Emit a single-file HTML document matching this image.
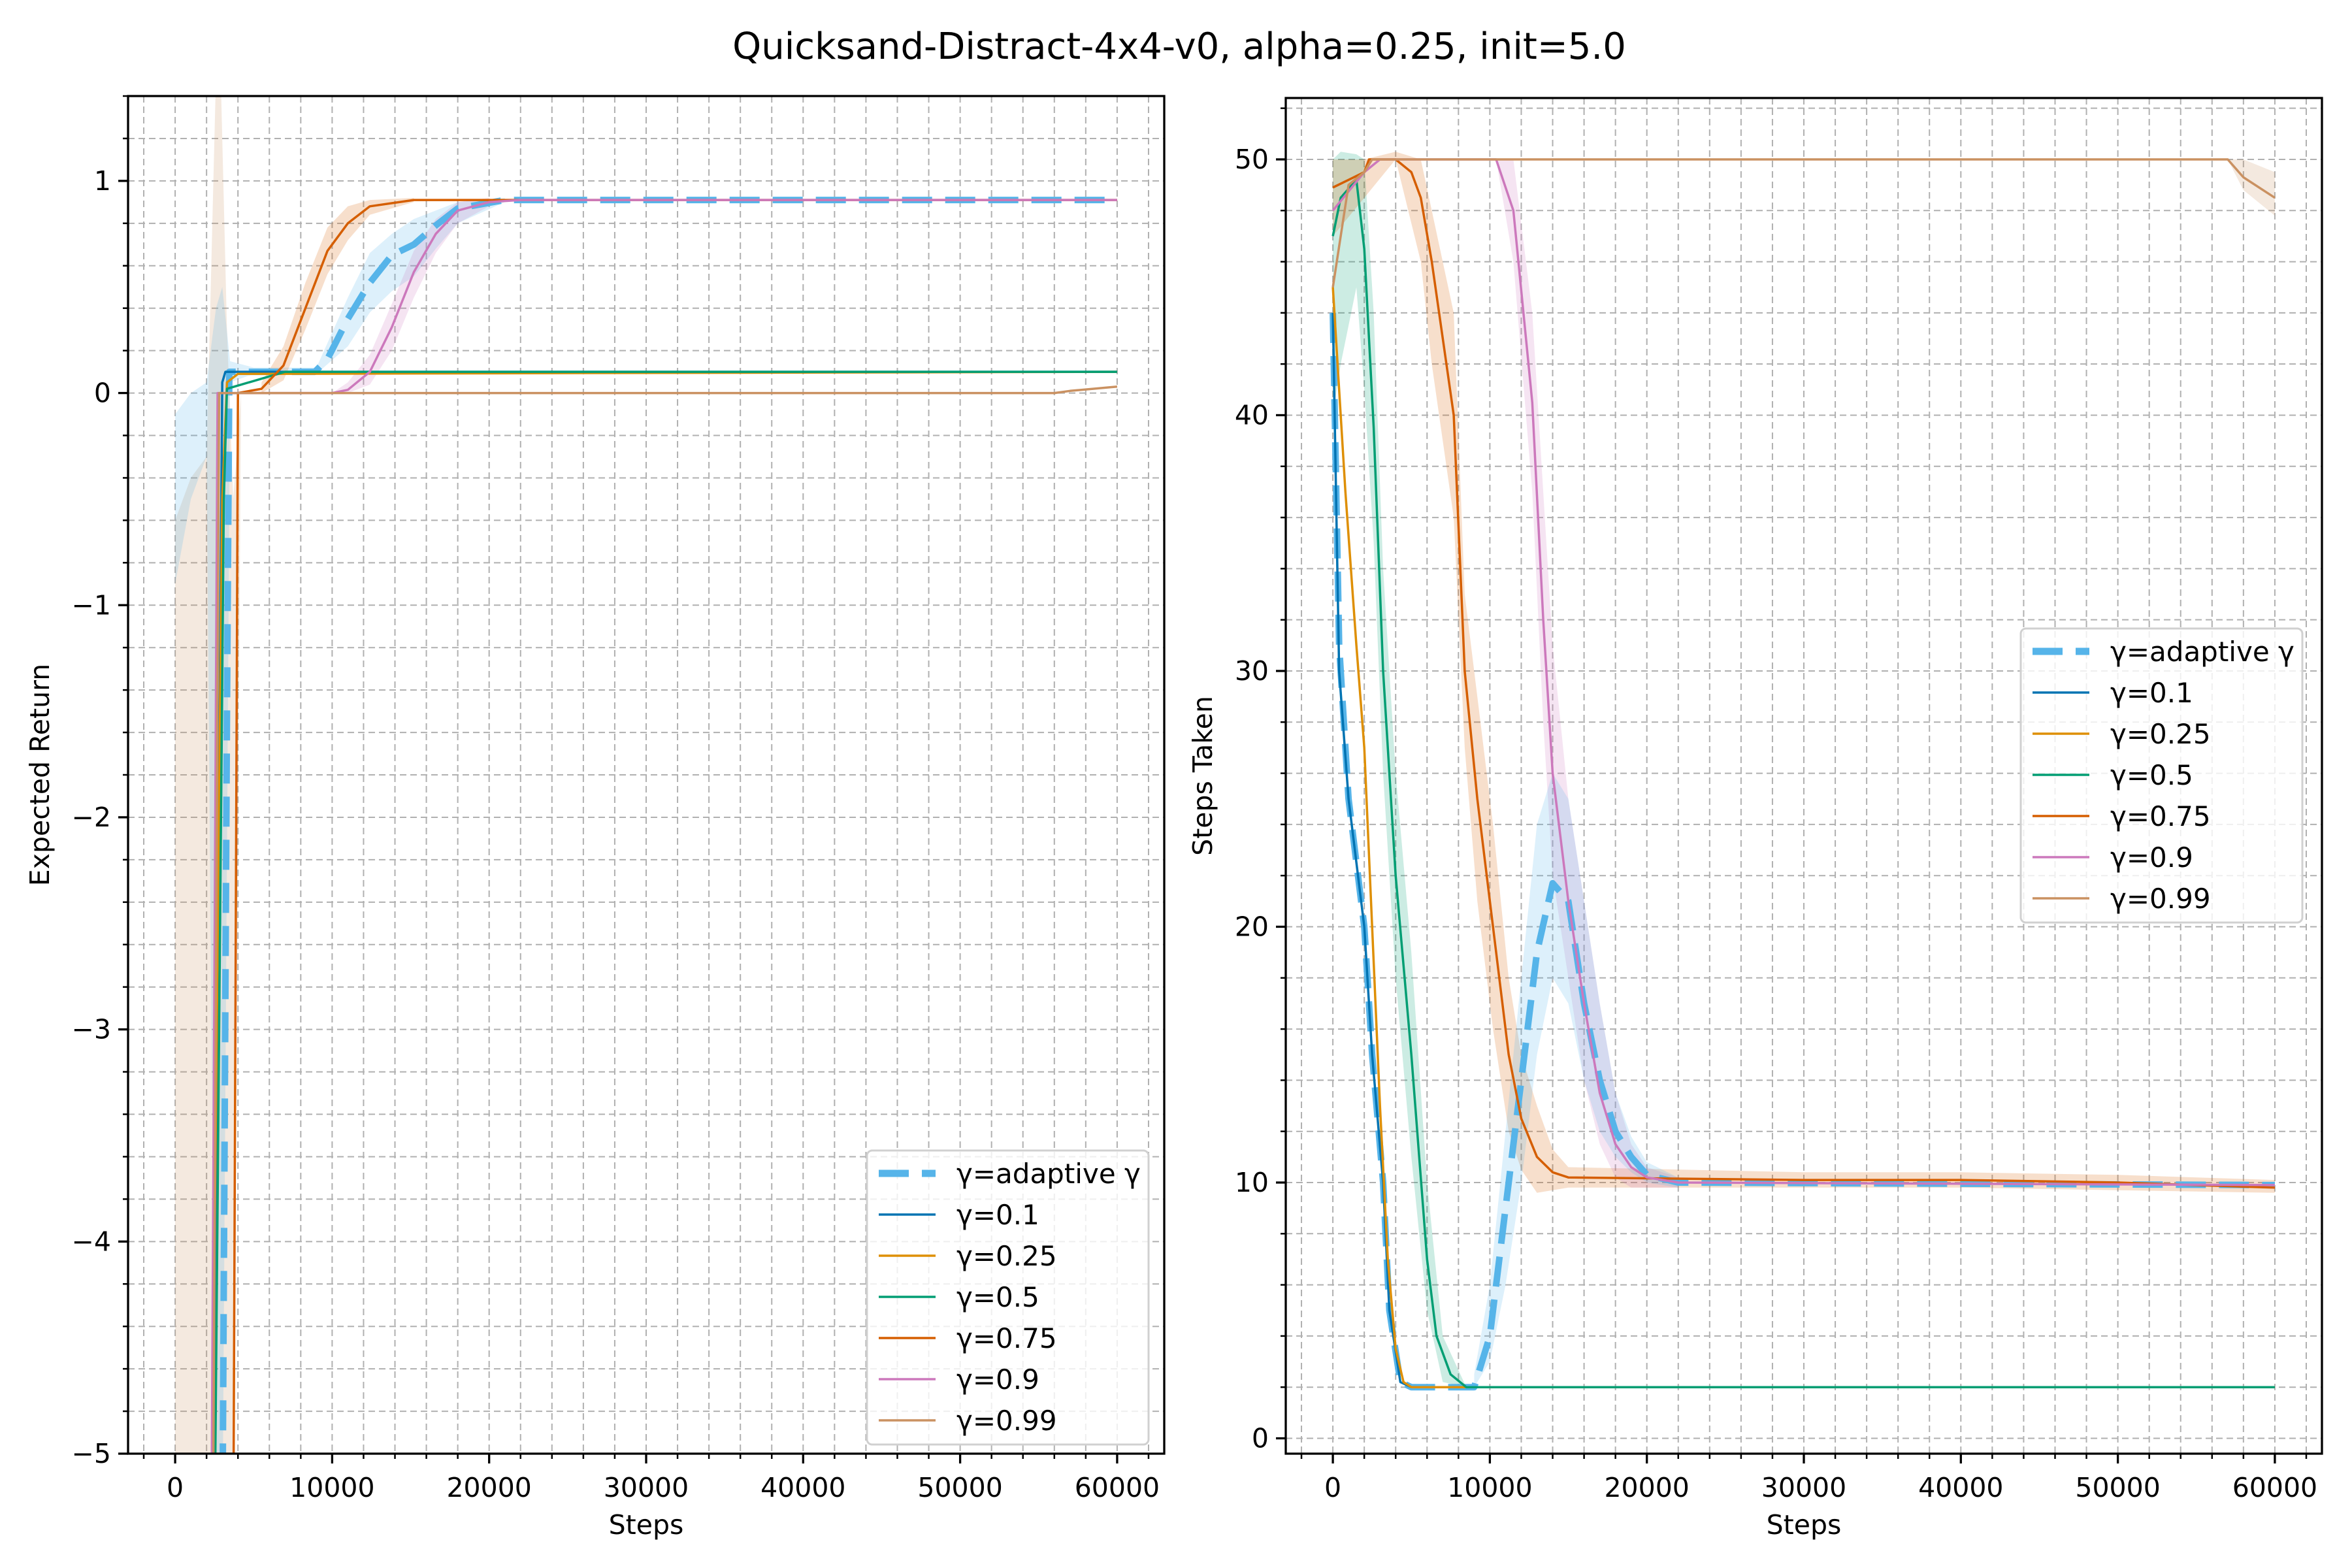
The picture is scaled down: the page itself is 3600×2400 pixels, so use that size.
<!DOCTYPE html>
<html><head><meta charset="utf-8"><style>
html,body{margin:0;padding:0;background:#fff}
svg{display:block}
text{font-family:"DejaVu Sans","Liberation Sans",sans-serif;fill:#000}
</style></head><body>
<svg id="fig" width="3600" height="2400" viewBox="0 0 3600 2400" xmlns="http://www.w3.org/2000/svg">
<rect width="3600" height="2400" fill="#fff"/>
<text x="1805" y="90" font-size="56" text-anchor="middle">Quicksand-Distract-4x4-v0, alpha=0.25, init=5.0</text>
<defs>
<clipPath id="clipL"><rect x="196" y="147" width="1586" height="2078"/></clipPath>
<clipPath id="clipR"><rect x="1968" y="150" width="1586" height="2075"/></clipPath>
</defs>
<g id="axL"></g>
<g id="axR"></g>
</svg>
<script>
// ---- data ----
const seriesNames = ["γ=adaptive γ","γ=0.1","γ=0.25","γ=0.5","γ=0.75","γ=0.9","γ=0.99"];
const seriesKeys = ["adaptive","g01","g025","g05","g075","g09","g099"];
const colors = ["#56b4e9","#0173b2","#de8f05","#029e73","#d55e00","#cc78bc","#ca9161"];
const xTicks = [0,10000,20000,30000,40000,50000,60000];
const leftYTicks = [-5,-4,-3,-2,-1,0,1];
const rightYTicks = [0,10,20,30,40,50];

// Left: Expected Return
const retX_adaptive = [3000,3300,3450,5000,8900,9700,11000,12400,13800,15200,16600,18000,21000,60000];
const retY_adaptive = [-5.5,-1.5,0.1,0.1,0.1,0.16,0.35,0.52,0.65,0.70,0.79,0.87,0.91,0.91];
const retX_g01 = [2400,3000,3200,60000];
const retY_g01 = [-5.5,0.05,0.1,0.1];
const retX_g025 = [2300,3000,3300,4000,60000];
const retY_g025 = [-5.5,-0.5,0.05,0.09,0.1];
const retX_g05 = [2500,3100,3300,7000,60000];
const retY_g05 = [-5.5,-0.5,0.02,0.1,0.1];
const retX_g075 = [3700,4000,5500,6900,8300,9700,11000,12400,15200,60000];
const retY_g075 = [-5.5,0,0.02,0.13,0.4,0.67,0.8,0.88,0.91,0.91];
const retX_g09 = [2300,2700,10000,11000,12400,13800,15200,16600,18000,20000,22000,60000];
const retY_g09 = [-5.5,0,0,0.015,0.1,0.31,0.57,0.75,0.86,0.9,0.91,0.91];
const retX_g099 = [2400,2800,56000,57000,60000];
const retY_g099 = [-5.5,0,0,0.01,0.03];
// Left bands
const retBandX_g099 = [0,1000,2000,2600,2900,3300,3700,4200];
const retBandLo_g099 = [-5.5,-5.5,-5.5,-5.5,-5.5,-5.5,-5.5,0];
const retBandHi_g099 = [-0.6,-0.4,-0.3,1.5,1.5,0.3,-0.5,0];
const retBandX_adaptive = [0,1000,2000,2600,3000,3500,5000,9000,11000,12400,13800,15200,16600,18000,21000];
const retBandLo_adaptive = [-0.9,-0.5,-0.3,-5.5,-5.5,0.05,0.09,0.09,0.22,0.38,0.48,0.55,0.68,0.80,0.90];
const retBandHi_adaptive = [-0.1,0,0.05,0.4,0.5,0.15,0.12,0.12,0.45,0.66,0.75,0.82,0.86,0.90,0.92];
const retBandX_g075 = [5500,6900,8300,9700,11000,12400,15200];
const retBandLo_g075 = [0,0.06,0.3,0.56,0.72,0.84,0.90];
const retBandHi_g075 = [0.05,0.22,0.52,0.78,0.88,0.91,0.92];
const retBandX_g09 = [10000,11000,12400,13800,15200,16600,18000,20000];
const retBandLo_g09 = [0,0,0.04,0.2,0.45,0.66,0.8,0.88];
const retBandHi_g09 = [0,0.05,0.18,0.42,0.67,0.82,0.9,0.92];

// Right: Steps Taken
const stpX_adaptive = [0,400,1000,2000,2500,3200,3600,4300,5000,9000,10000,11000,12000,13000,14000,15000,16000,17000,18000,19000,20000,22000,60000];
const stpY_adaptive = [44,31,25,20,15,10,5,2.2,2,2,4,9,14,19,21.7,21,17,14,12,11,10.3,10,9.9];
const stpX_g01 = [0,400,1000,2000,2500,3200,3600,4300,5000,9000];
const stpY_g01 = [44,30,25,20,15,10,5,2.2,2,2];
const stpX_g025 = [0,300,800,1500,2000,2500,3000,3500,4000,4500,5000,60000];
const stpY_g025 = [45,42,37,31,27,20,13,7,3.5,2.2,2,2];
const stpX_g05 = [0,500,1500,2000,2600,3200,4000,5000,6000,6600,7500,8500,60000];
const stpY_g05 = [47,48.5,49.2,46.5,39.5,30,22,15,7,4,2.5,2,2];
const stpX_g075 = [0,1000,2000,2300,4000,5000,5600,6300,7000,7700,8400,9200,10200,11200,12000,13000,14000,15000,30000,40000,50000,60000];
const stpY_g075 = [48.9,49.2,49.5,50,50,49.5,48.5,46,43,40,30,25,20,15,12.5,11,10.4,10.2,10.1,10.1,10,9.8];
const stpX_g09 = [0,2000,3000,10400,11500,12700,13400,14000,15000,16000,17000,18000,19000,20000,22000,60000];
const stpY_g09 = [48,49.5,50,50,48,40.5,32,26,21,17,13.5,11.5,10.6,10.2,10,9.9];
const stpX_g099 = [0,1000,2000,2500,57000,58000,60000];
const stpY_g099 = [45,49,49.5,50,50,49.3,48.5];
// Right bands
const stpBandX_adaptive = [9000,10000,11000,12000,13000,14000,15000,16000,17000,18000,19000,20000,22000];
const stpBandLo_adaptive = [2,3,6,10,15,18,17,14,12,11,10.4,10,9.8];
const stpBandHi_adaptive = [2.5,6,12,18,24,26,25,21,17,13.5,11.8,10.8,10.2];
const stpBandX_g075 = [0,2000,4000,5600,6300,7700,8400,9200,10200,11200,12000,13000,14000,15000,30000,40000,50000,60000];
const stpBandLo_g075 = [47,48.5,50,46,42,36,27,21,16,12,10.5,9.6,9.7,9.8,9.8,9.8,9.7,9.6];
const stpBandHi_g075 = [50,50,50.3,50,48,44,33,29,24,18,15,13,11.3,10.6,10.4,10.4,10.3,10.1];
const stpBandX_g09 = [10400,11500,12700,13400,14000,15000,16000,17000,18000,19000,20000,22000];
const stpBandLo_g09 = [50,46,37,28,22,18,14,11.5,10.2,9.8,9.8,9.8];
const stpBandHi_g09 = [50,50,44,37,31,25,21,17,13.5,11.5,10.6,10.2];
const stpBandX_g05 = [0,500,1500,2000,2600,3200,4000,5000,6000,7000,8500];
const stpBandLo_g05 = [40,42,45,41,35,26,18,11,5,2.2,2];
const stpBandHi_g05 = [50,50.3,50.2,50,44,34,26,19,10,4,2];
const stpBandX_g099 = [57000,58000,60000];
const stpBandLo_g099 = [50,48.8,47.8];
const stpBandHi_g099 = [50,50,49.5];

// ---- rendering ----
const NS = "http://www.w3.org/2000/svg";
function mk(tag, attrs, parent){
  const e = document.createElementNS(NS, tag);
  for (const k in attrs) e.setAttribute(k, attrs[k]);
  parent.appendChild(e);
  return e;
}
function makeAxis(cfg){
  const {x0, x1, y0, y1, xmin, xmax, ymin, ymax} = cfg;
  const sx = v => x0 + (v - xmin) / (xmax - xmin) * (x1 - x0);
  const sy = v => y1 - (v - ymin) / (ymax - ymin) * (y1 - y0);
  return {sx, sy};
}
function drawAxes(cfg, ax){
  const {g, x0, x1, y0, y1, xmin, xmax, ymin, ymax, yTicks, yMinorStep, ylabel, ylabelX, clip} = cfg;
  const grid = mk("g", {}, g);
  
  
  for (let v = Math.ceil(xmin/2000)*2000; v <= xmax; v += 2000){
    const X = ax.sx(v);
    const l = mk("line", {x1:X, x2:X, y1:y0, y2:y1, stroke:"#b0b0b0", "stroke-width":2, "stroke-dasharray":"10,6"}, grid);
    
    
    const major = v % 10000 === 0;
    const t = mk("line", {x1:X, x2:X, y1:y1, y2:y1 + (major ? 15 : 8), stroke:"#000", "stroke-width": major ? 3.3 : 2.5}, g);
    
    
  }
  for (let i = Math.ceil(ymin / yMinorStep - 1e-9); i * yMinorStep <= ymax + 1e-9; i++){
    const v = i * yMinorStep;
    const Y = ax.sy(v);
    const l = mk("line", {x1:x0, x2:x1, y1:Y, y2:Y, stroke:"#b0b0b0", "stroke-width":2, "stroke-dasharray":"10,6"}, grid);
    
    
    const t = mk("line", {x1:x0, x2:x0 - 8, y1:Y, y2:Y, stroke:"#000", "stroke-width":2.5}, g);
    
    
  }
  yTicks.forEach(v => {
    const Y = ax.sy(v);
    const t = mk("line", {x1:x0, x2:x0 - 15, y1:Y, y2:Y, stroke:"#000", "stroke-width":3.3}, g);
    
    
    const lb = mk("text", {x:x0 - 26, y:Y + 14, "font-size":41, "text-anchor":"end"}, g);
    lb.textContent = v < 0 ? "\u2212" + Math.abs(v) : String(v);
    
    
  });
  xTicks.forEach(v => {
    const X = ax.sx(v);
    const lb = mk("text", {x:X, y:y1 + 66, "font-size":41, "text-anchor":"middle"}, g);
    lb.textContent = String(v);
    
    
  });
  const xl = mk("text", {x:(x0 + x1) / 2, y:y1 + 123, "font-size":41, "text-anchor":"middle"}, g);
  xl.textContent = "Steps";
  
  
  const cy = (y0 + y1) / 2;
  const yl = mk("text", {x:ylabelX, y:cy, "font-size":41, "text-anchor":"middle", transform:"rotate(-90 " + ylabelX + " " + cy + ")"}, g);
  yl.textContent = ylabel;
  
  
  const plot = mk("g", {"clip-path":"url(#" + clip + ")"}, g);
  
  
  return plot;
}
function band(plot, ax, xs, lo, hi, color, name){
  let d = "";
  xs.forEach((v, i) => { d += (i ? "L" : "M") + ax.sx(v).toFixed(1) + "," + ax.sy(hi[i]).toFixed(1); });
  for (let i = xs.length - 1; i >= 0; i--) d += "L" + ax.sx(xs[i]).toFixed(1) + "," + ax.sy(lo[i]).toFixed(1);
  const p = mk("path", {d: d + "Z", fill: color, "fill-opacity": 0.2, stroke: "none"}, plot);
  
  
}
function line(plot, ax, xs, ys, color, dashed, name){
  let d = "";
  xs.forEach((v, i) => { d += (i ? "L" : "M") + ax.sx(v).toFixed(1) + "," + ax.sy(ys[i]).toFixed(1); });
  const attrs = {d, fill:"none", stroke: color, "stroke-width": dashed ? 10 : 3.5, "stroke-linejoin":"round"};
  if (dashed) attrs["stroke-dasharray"] = "46,20";
  const p = mk("path", attrs, plot);
  
  
}
function spine(g, x0, x1, y0, y1){
  const r = mk("rect", {x:x0, y:y0, width:x1 - x0, height:y1 - y0, fill:"none", stroke:"#000", "stroke-width":3.3}, g);
  
  
}
function legend(g, lx, ly){
  const lg = mk("g", {}, g);
  
  
  const box = mk("rect", {x:lx, y:ly, width:431, height:450, rx:8, fill:"#fff", "fill-opacity":0.8, stroke:"#d0d0d0", "stroke-width":3}, lg);
  
  
  seriesNames.forEach((nm, i) => {
    const cy = ly + 35 + i * 63;
    const e = mk("g", {}, lg);
    
    
    const a = {x1:lx + 18, x2:lx + 105, y1:cy, y2:cy, stroke:colors[i], "stroke-width": i === 0 ? 11 : 3.5};
    if (i === 0) { a["stroke-dasharray"] = "46,20"; }
    const l = mk("line", a, e);
    
    
    const t = mk("text", {x:lx + 137, y:cy + 15, "font-size":42}, e);
    t.textContent = nm;
    
    
  });
}

// Left axes
const cfgL = {g:document.getElementById("axL"), x0:196, x1:1782, y0:147, y1:2225, xmin:-3000, xmax:63000, ymin:-5, ymax:1.4, yTicks:leftYTicks, yMinorStep:0.2, ylabel:"Expected Return", ylabelX:75, clip:"clipL"};
const axL = makeAxis(cfgL);
const plotL = drawAxes(cfgL, axL);
band(plotL, axL, retBandX_g099, retBandLo_g099, retBandHi_g099, colors[6], "band-g099");
band(plotL, axL, retBandX_adaptive, retBandLo_adaptive, retBandHi_adaptive, colors[0], "band-adaptive");
band(plotL, axL, retBandX_g075, retBandLo_g075, retBandHi_g075, colors[4], "band-g075");
band(plotL, axL, retBandX_g09, retBandLo_g09, retBandHi_g09, colors[5], "band-g09");
line(plotL, axL, retX_adaptive, retY_adaptive, colors[0], true, "line-adaptive");
line(plotL, axL, retX_g01, retY_g01, colors[1], false, "line-g01");
line(plotL, axL, retX_g025, retY_g025, colors[2], false, "line-g025");
line(plotL, axL, retX_g05, retY_g05, colors[3], false, "line-g05");
line(plotL, axL, retX_g075, retY_g075, colors[4], false, "line-g075");
line(plotL, axL, retX_g09, retY_g09, colors[5], false, "line-g09");
line(plotL, axL, retX_g099, retY_g099, colors[6], false, "line-g099");
spine(cfgL.g, 196, 1782, 147, 2225);
legend(cfgL.g, 1327, 1761);

// Right axes
const cfgR = {g:document.getElementById("axR"), x0:1968, x1:3554, y0:150, y1:2225, xmin:-3000, xmax:63000, ymin:-0.6, ymax:52.4, yTicks:rightYTicks, yMinorStep:2, ylabel:"Steps Taken", ylabelX:1855, clip:"clipR"};
const axR = makeAxis(cfgR);
const plotR = drawAxes(cfgR, axR);
band(plotR, axR, stpBandX_g05, stpBandLo_g05, stpBandHi_g05, colors[3], "band-g05");
band(plotR, axR, stpBandX_g075, stpBandLo_g075, stpBandHi_g075, colors[4], "band-g075");
band(plotR, axR, stpBandX_g09, stpBandLo_g09, stpBandHi_g09, colors[5], "band-g09");
band(plotR, axR, stpBandX_adaptive, stpBandLo_adaptive, stpBandHi_adaptive, colors[0], "band-adaptive");
band(plotR, axR, stpBandX_g099, stpBandLo_g099, stpBandHi_g099, colors[6], "band-g099");
line(plotR, axR, stpX_adaptive, stpY_adaptive, colors[0], true, "line-adaptive");
line(plotR, axR, stpX_g01, stpY_g01, colors[1], false, "line-g01");
line(plotR, axR, stpX_g025, stpY_g025, colors[2], false, "line-g025");
line(plotR, axR, stpX_g05, stpY_g05, colors[3], false, "line-g05");
line(plotR, axR, stpX_g075, stpY_g075, colors[4], false, "line-g075");
line(plotR, axR, stpX_g09, stpY_g09, colors[5], false, "line-g09");
line(plotR, axR, stpX_g099, stpY_g099, colors[6], false, "line-g099");
spine(cfgR.g, 1968, 3554, 150, 2225);
legend(cfgR.g, 3093, 962);
</script>
</body></html>
